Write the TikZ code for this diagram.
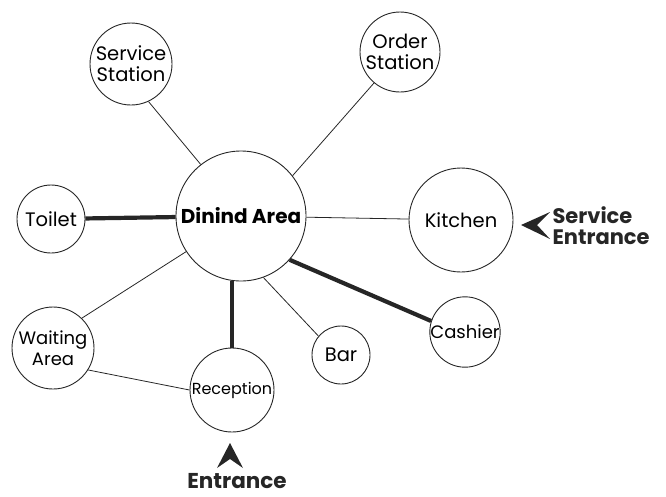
\documentclass[tikz,border=0pt]{standalone}
\usepackage{fontspec}
\setmainfont{Poppins}
\begin{document}
\begin{tikzpicture}[x=1pt,y=-1pt,
  room/.style={circle,draw=black!85,line width=.9pt,inner sep=0pt,align=center,font=\fontsize{19.5}{21}\selectfont},
  thinlink/.style={draw=black!85,line width=.8pt},
  thicklink/.style={draw=black!85,line width=4.2pt},
  door/.style={anchor=west,align=left,font=\bfseries\fontsize{21}{21}\selectfont,text=black!85}]
\useasboundingbox (0,0) rectangle (666,496);
\node[room,minimum size=130pt,font=\bfseries\fontsize{20}{21}\selectfont] (dining) at (241,216) {Dinind Area};
\node[room,minimum size=82pt] (svcstation) at (131,64) {Service\\Station};
\node[room,minimum size=80pt] (orderstation) at (400,52) {Order\\Station};
\node[room,minimum size=68pt] (toilet) at (51,219) {Toilet};
\node[room,minimum size=104pt] (kitchen) at (461,220) {Kitchen};
\node[room,minimum size=70pt,font=\fontsize{18}{20}\selectfont] (cashier) at (465,332) {Cashier};
\node[room,minimum size=58pt] (bar) at (341,355) {Bar};
\node[room,minimum size=82pt,font=\fontsize{18}{21}\selectfont] (waiting) at (53,348) {Waiting\\Area};
\node[room,minimum size=84pt,font=\fontsize{16}{18}\selectfont] (reception) at (232,390) {Reception};
\node[door] (serviceentr) at (549,226) {Service\\Entrance};
\node[door,anchor=center,font=\bfseries\fontsize{21.5}{21}\selectfont] (entrance) at (237,481) {Entrance};
\draw[thinlink] (svcstation.-65) -- (dining.128);
\draw[thinlink] (orderstation.-130) -- (dining.38);
\draw[thicklink] (toilet) -- (dining);
\draw[thinlink] (dining) -- (kitchen);
\draw[thicklink] (dining.-42) -- (cashier.162);
\draw[thicklink] (reception.north) -- (reception.north |- dining.south);
\draw[thinlink] (dining.-70) -- (bar.140);
\draw[thinlink] (dining.-147) -- (waiting.46);
\draw[thinlink] (waiting.-32) -- (reception.west);
\fill[black!85] (521,225) -- (550,212) -- (537,225) -- (550,239) -- cycle;
\fill[black!85] (230,443) -- (243,468) -- (230,459) -- (217,468) -- cycle;
\end{tikzpicture}
\end{document}
